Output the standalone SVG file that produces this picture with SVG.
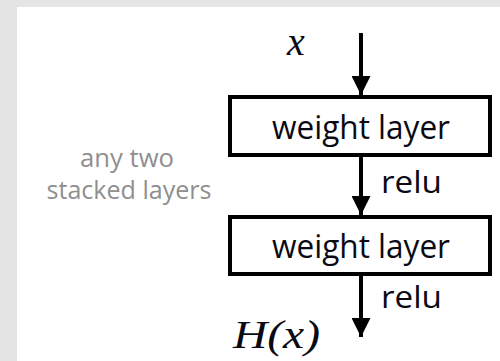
<svg xmlns="http://www.w3.org/2000/svg" width="500" height="361" viewBox="0 0 500 361">
<style>
.box{fill:#fff;stroke:#000;stroke-width:4}
.lbl{font-family:"Open Sans","Liberation Sans",sans-serif;font-size:32px;fill:#0a0a14;text-anchor:middle}
.relu{font-family:"Open Sans","Liberation Sans",sans-serif;font-size:31px;fill:#0a0a14}
.note{font-family:"Open Sans","Liberation Sans",sans-serif;font-size:25px;fill:#8f8f8f;text-anchor:middle}
.math{font-family:"Liberation Serif","DejaVu Serif",serif;font-style:italic;fill:#0a0a14}
.conn line{stroke:#000;stroke-width:4}
</style>
<defs>
<marker id="ah" markerUnits="userSpaceOnUse" markerWidth="19" markerHeight="19" refX="19" refY="9.5" orient="auto">
<path d="M0,0 L19,9.5 L0,19 Z" fill="#000"/>
</marker>
</defs>
<rect x="0" y="0" width="500" height="361" fill="#e5e5e5"/>
<rect x="17" y="7" width="483" height="354" fill="#fff"/>
<g id="input">
<text class="math" x="287" y="55" font-size="40">x</text>
</g>
<g id="note">
<text class="note" x="127" y="167" textLength="94" lengthAdjust="spacingAndGlyphs">any two</text>
<text class="note" x="129" y="199" textLength="165" lengthAdjust="spacingAndGlyphs">stacked layers</text>
</g>
<g id="layer1">
<rect class="box" x="230" y="97" width="260" height="58"/>
<text class="lbl" x="361" y="139" textLength="178" lengthAdjust="spacingAndGlyphs">weight layer</text>
</g>
<g id="layer2">
<rect class="box" x="230" y="217" width="260" height="57"/>
<text class="lbl" x="361" y="258" textLength="178" lengthAdjust="spacingAndGlyphs">weight layer</text>
</g>
<g id="output">
<text class="math" x="233" y="348" font-size="40" textLength="87" lengthAdjust="spacingAndGlyphs">H(x)</text>
</g>
<g class="conn" id="connectors">
<line x1="361" y1="33" x2="361" y2="95" marker-end="url(#ah)"/>
<line x1="361" y1="157" x2="361" y2="215" marker-end="url(#ah)"/>
<line x1="361" y1="276" x2="361" y2="337" marker-end="url(#ah)"/>
<text class="relu" x="381" y="193" textLength="61" lengthAdjust="spacingAndGlyphs">relu</text>
<text class="relu" x="381" y="308" textLength="61" lengthAdjust="spacingAndGlyphs">relu</text>
</g>
</svg>
